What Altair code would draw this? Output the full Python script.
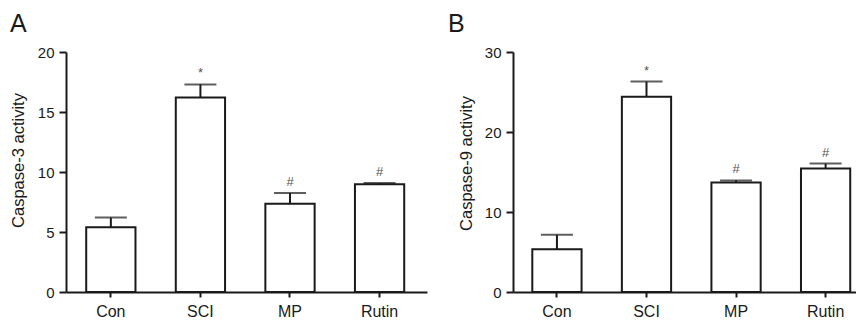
import altair as alt
import pandas as pd

groups = ["Con", "SCI", "MP", "Rutin"]
casp3_mean = [5.4, 16.2, 7.35, 8.98]
casp3_err = [0.8, 1.1, 0.9, 0.1]
casp3_sig = ["", "*", "#", "#"]
casp9_mean = [5.35, 24.4, 13.7, 15.45]
casp9_err = [1.8, 1.9, 0.25, 0.6]
casp9_sig = ["", "*", "#", "#"]
y3_ticks = [0, 5, 10, 15, 20]
y9_ticks = [0, 10, 20, 30]

FONT = "Liberation Sans"
INK = "#1a1a1a"


def panel(letter, means, errs, sigs, ymax, ticks, ytitle, width,
          pad_outer, align, title_dx, title_x, title_y):
    df = pd.DataFrame({"group": groups, "mean": means, "err": errs, "sig": sigs})
    df["upper"] = df["mean"] + df["err"]
    x = alt.X(
        "group:N", sort=groups, title=None,
        scale=alt.Scale(paddingInner=0.45, paddingOuter=pad_outer, align=align),
        axis=alt.Axis(labelAngle=0, labelFontSize=16, labelFont=FONT, labelColor=INK,
                      labelPadding=6, tickSize=5, tickWidth=2, tickColor=INK,
                      domainColor=INK, domainWidth=2),
    )
    yscale = alt.Scale(domain=[0, ymax], nice=False)
    y = alt.Y(
        "mean:Q", scale=yscale,
        axis=alt.Axis(values=ticks, title=ytitle, titleFontSize=16.5, titleFont=FONT,
                      titleFontWeight="normal", titleColor=INK, titleAngle=270,
                      titleX=title_x, titleY=title_y, titleAlign="center",
                      titleBaseline="bottom",
                      labelFontSize=15, labelFont=FONT, labelColor=INK, labelPadding=5,
                      tickSize=7, tickWidth=2, tickColor=INK, domainColor=INK,
                      domainWidth=2, grid=False),
    )
    base = alt.Chart(df)
    bars = base.mark_bar(fill="white", stroke=INK, strokeWidth=2).encode(x=x, y=y)
    err = base.mark_rule(color=INK, strokeWidth=2).encode(
        x=x, y=alt.Y("mean:Q", scale=yscale), y2="upper:Q")
    cap = base.mark_tick(color=INK, size=32, thickness=2).encode(
        x=x, y=alt.Y("upper:Q", scale=yscale))
    sig = base.mark_text(dy=-7, baseline="alphabetic", fontSize=13, color="#555",
                         font=FONT).encode(
        x=x, y=alt.Y("upper:Q", scale=yscale), text="sig:N")
    return alt.layer(bars, err, cap, sig).properties(
        width=width, height=240,
        title=alt.TitleParams(letter, anchor="start", frame="group", dx=title_dx,
                              fontSize=25, fontWeight="normal", font=FONT,
                              color=INK, offset=8),
    )


a = panel("A", casp3_mean, casp3_err, casp3_sig, 20, y3_ticks, "Caspase-3 activity",
          361, 0.24, 0.47, -56, -40, 108)
b = panel("B", casp9_mean, casp9_err, casp9_sig, 30, y9_ticks, "Caspase-9 activity",
          343, 0.14, 0.77, -65, -39, 111)

chart = alt.hconcat(a, b, spacing=21).properties(
    padding={"left": 2, "top": 4, "right": 0, "bottom": 0},
    background="white",
).configure_view(stroke=None)

chart.save("out.html", embed_options={"renderer": "svg", "actions": False})
